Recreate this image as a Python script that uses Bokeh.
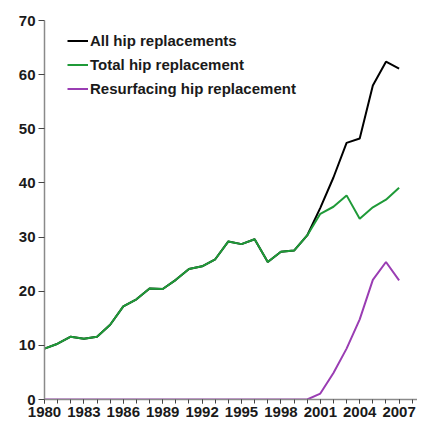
from bokeh.plotting import figure
from bokeh.models import Range1d, FixedTicker, Legend, LegendItem
from bokeh.embed import file_html
from bokeh.resources import INLINE

years = list(range(1980, 2008))
total_hip = [9.4, 10.3, 11.6, 11.2, 11.6, 13.8, 17.2, 18.5, 20.5, 20.4, 22.1, 24.1,
             24.6, 25.9, 29.2, 28.7, 29.6, 25.4, 27.3, 27.5, 30.3, 34.3, 35.6, 37.7,
             33.4, 35.5, 36.9, 39.1]
resurfacing = [0, 0, 0, 0, 0, 0, 0, 0, 0, 0, 0, 0,
               0, 0, 0, 0, 0, 0, 0, 0, 0, 1.1, 4.9, 9.4,
               14.8, 22.1, 25.4, 22.0]
all_hip = [9.4, 10.3, 11.6, 11.2, 11.6, 13.8, 17.2, 18.5, 20.5, 20.4, 22.1, 24.1,
           24.6, 25.9, 29.2, 28.7, 29.6, 25.4, 27.3, 27.5, 30.3, 35.4, 41.0, 47.4,
           48.2, 58.0, 62.4, 61.1]
x_tick_labels = [1980, 1983, 1986, 1989, 1992, 1995, 1998, 2001, 2004, 2007]
y_ticks = [0, 10, 20, 30, 40, 50, 60, 70]
series_names = ["All hip replacements", "Total hip replacement", "Resurfacing hip replacement"]

p = figure(width=417, height=423, output_backend="svg", toolbar_location=None,
           x_range=Range1d(1980, 2008.4), y_range=Range1d(0, 70),
           min_border_left=44, min_border_right=0, min_border_top=20, min_border_bottom=24)
p.outline_line_color = None
p.xgrid.grid_line_color = None
p.ygrid.grid_line_color = None
p.background_fill_color = "white"

font = "Liberation Sans"
axis_color = "#8a8a8a"

p.xaxis.ticker = FixedTicker(ticks=x_tick_labels, minor_ticks=years + [2008])
p.yaxis.ticker = FixedTicker(ticks=y_ticks, minor_ticks=[])
for ax in (p.xaxis, p.yaxis):
    ax.axis_line_color = axis_color
    ax.axis_line_width = 1.5
    ax.major_tick_line_color = "#444444"
    ax.minor_tick_line_color = "#444444"
    ax.major_label_text_font = font
    ax.major_label_text_font_size = "15px"
    ax.major_label_text_font_style = "bold"
    ax.major_label_text_color = "#1a1a1a"
p.xaxis.major_tick_out = 4
p.xaxis.major_tick_in = 0
p.xaxis.minor_tick_out = 4
p.xaxis.minor_tick_in = 0
p.xaxis.major_label_standoff = 3
p.yaxis.major_tick_out = 6
p.yaxis.major_tick_in = 0
p.yaxis.major_label_standoff = 3

r_all = p.line(years, all_hip, line_color="black", line_width=2)
r_total = p.line(years, total_hip, line_color="#1f9a38", line_width=2)
r_res = p.line(years, resurfacing, line_color="#9a3db3", line_width=2)

legend = Legend(items=[LegendItem(label=series_names[0], renderers=[r_all]),
                       LegendItem(label=series_names[1], renderers=[r_total]),
                       LegendItem(label=series_names[2], renderers=[r_res])],
                location=(23, 300), margin=0, padding=0, spacing=3,
                label_height=21, glyph_height=21, glyph_width=21, label_standoff=2,
                label_text_font=font, label_text_font_size="15px",
                label_text_font_style="bold",
                label_text_color="#1a1a1a",
                border_line_alpha=0, background_fill_alpha=0)
p.add_layout(legend)

open("out.html", "w").write(file_html(p, INLINE))
